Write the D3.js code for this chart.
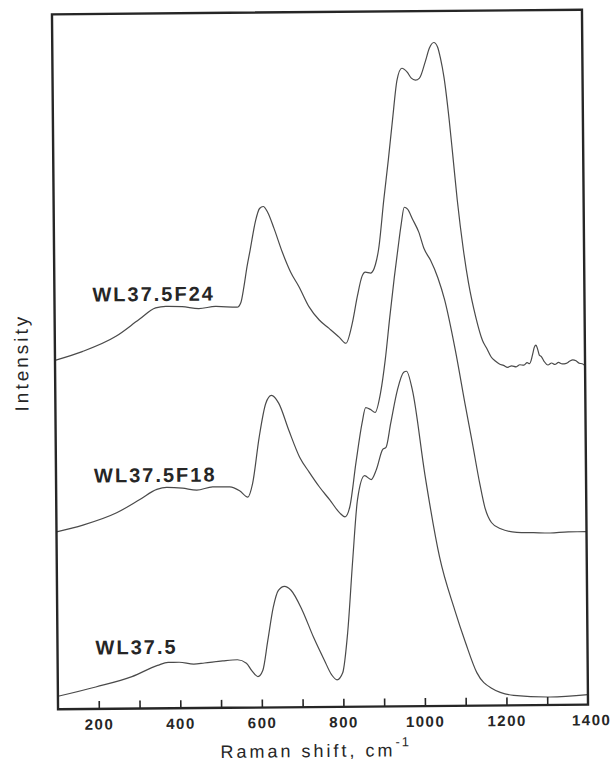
<!DOCTYPE html>
<html>
<head>
<meta charset="utf-8">
<script src="https://cdn.jsdelivr.net/npm/d3@7"></script>
<style>
  html, body { margin: 0; padding: 0; background: #fff; }
  svg { display: block; }
</style>
</head>
<body>
<svg id="chart" width="611" height="763"></svg>
<script>
// Raman shift (cm-1) and intensity (arbitrary units, stacked) for each spectrum
const f24Shift = [100, 167, 250, 307, 348, 373, 413, 454, 495, 548, 557, 565, 573, 581, 595, 605, 614, 625, 640, 660, 680, 700, 724, 749, 773, 798, 814, 830, 843, 855, 863, 876, 888, 896, 910, 922, 933, 945, 957, 970, 980, 990, 1000, 1015, 1025, 1036, 1045, 1052, 1060, 1072, 1080, 1090, 1104, 1116, 1133, 1149, 1160, 1170, 1180, 1190, 1200, 1210, 1220, 1231, 1240, 1250, 1258, 1264, 1268, 1272, 1276, 1280, 1284, 1288, 1293, 1300, 1309, 1318, 1326, 1335, 1344, 1354, 1362, 1370, 1378, 1386, 1393, 1400];
const f24Int   = [69.8, 71.5, 74.5, 77.8, 80.1, 80.4, 80.3, 79.9, 80.3, 80.1, 81.0, 84.2, 88.2, 91.5, 97.4, 99.8, 100.2, 99.0, 95.8, 91.0, 87.0, 84.1, 80.1, 77.4, 75.7, 73.9, 72.7, 76.7, 82.1, 86.1, 86.9, 86.7, 88.4, 91.4, 101.4, 109.4, 117.3, 125.3, 127.6, 126.8, 125.6, 125.2, 125.6, 129.0, 131.6, 132.7, 131.8, 129.5, 125.8, 117.2, 110.2, 101.2, 91.2, 84.5, 77.7, 73.0, 71.3, 69.7, 68.9, 68.3, 68.0, 67.6, 67.9, 67.7, 68.1, 68.0, 68.5, 68.3, 69.0, 70.3, 71.6, 72.0, 71.2, 70.0, 69.7, 68.7, 68.0, 68.4, 68.1, 68.5, 68.2, 68.3, 68.7, 69.0, 68.8, 68.3, 68.2, 67.8];

const f18Shift = [100, 165, 248, 305, 347, 371, 410, 445, 484, 526, 550, 570, 582, 599, 616, 630, 648, 672, 698, 721, 746, 771, 795, 808, 820, 836, 852, 861, 873, 884, 898, 910, 922, 934, 943, 952, 960, 968, 980, 995, 1008, 1023, 1041, 1057, 1082, 1106, 1122, 1139, 1151, 1167, 1188, 1229, 1270, 1311, 1355, 1400];
const f18Int   = [35.5, 36.8, 39.2, 41.8, 43.8, 44.2, 44.0, 43.6, 44.2, 44.2, 43.4, 42.1, 44.8, 54.0, 60.8, 62.4, 60.8, 55.4, 50.0, 47.0, 44.0, 41.4, 38.8, 38.0, 40.0, 48.8, 56.8, 59.8, 59.4, 58.8, 62.8, 69.3, 77.8, 85.8, 91.2, 96.4, 99.8, 99.4, 97.4, 94.8, 91.4, 89.2, 85.6, 81.2, 71.2, 59.8, 52.5, 44.5, 39.7, 36.6, 35.4, 34.6, 34.5, 34.4, 34.6, 34.6];

const wlShift = [100, 193, 282, 345, 371, 398, 434, 460, 505, 541, 563, 576, 591, 603, 616, 630, 643, 658, 674, 701, 728, 754, 772, 785, 799, 812, 826, 839, 857, 873, 886, 902, 910, 922, 939, 955, 962, 976, 1005, 1039, 1075, 1101, 1128, 1165, 1218, 1307, 1400];
const wlInt   = [2.6, 4.4, 6.4, 8.6, 9.2, 9.2, 8.8, 9.0, 9.4, 9.6, 8.9, 7.4, 6.2, 7.4, 13.4, 20.0, 23.4, 24.2, 23.4, 19.4, 14.0, 9.4, 6.4, 5.4, 6.8, 14.8, 29.4, 41.4, 46.2, 45.4, 47.4, 51.4, 51.8, 56.6, 63.2, 66.8, 67.0, 63.2, 46.2, 29.8, 19.2, 12.6, 6.6, 3.4, 2.0, 1.6, 2.0];

const seriesNames = ["WL37.5F24", "WL37.5F18", "WL37.5"];
const labelAnchors = [305, 485, 657]; // label baselines in intensity-free pixel rows

const tickValues = [200, 300, 400, 500, 600, 700, 800, 900, 1000, 1100, 1200, 1300, 1400];
const tickLabels = ["200", "", "400", "", "600", "", "800", "", "1000", "", "1200", "", "1400"];

const xTitle = "Raman shift, cm";
const xTitleSup = "-1";
const yTitle = "Intensity";

const frame = { left: 55, right: 585, top: 12, bottom: 707 };
const ink = "#262626";
const traceInk = "#4a4a4a";
const font = "'Liberation Sans', Arial, Helvetica, sans-serif";

const x = d3.scaleLinear().domain([100, 1400]).range([frame.left, frame.right]);
const y = d3.scaleLinear().domain([0, 139]).range([frame.bottom, frame.top]);

const svg = d3.select("#chart");
svg.append("rect").attr("width", 611).attr("height", 763).attr("fill", "#fff");

// the whole plate sits very slightly tilted on the page
const g = svg.append("g").attr("transform", "rotate(-0.5,320,360)");

// spectra
const line = d3.line()
  .x(d => x(d[0]))
  .y(d => y(d[1]))
  .curve(d3.curveMonotoneX);

const series = [
  d3.zip(f24Shift, f24Int),
  d3.zip(f18Shift, f18Int),
  d3.zip(wlShift, wlInt)
];

g.selectAll("path.trace")
  .data(series)
  .join("path")
  .attr("class", "trace")
  .attr("d", line)
  .attr("fill", "none")
  .attr("stroke", traceInk)
  .attr("stroke-width", 1.2)
  .attr("stroke-linejoin", "round");

// frame
g.append("rect")
  .attr("x", frame.left)
  .attr("y", frame.top)
  .attr("width", frame.right - frame.left)
  .attr("height", frame.bottom - frame.top)
  .attr("fill", "none")
  .attr("stroke", ink)
  .attr("stroke-width", 2.4);

// bottom axis: inward ticks every 100 cm-1, labels every 200
const axis = d3.axisBottom(x)
  .tickValues(tickValues)
  .tickSizeInner(-8)
  .tickSizeOuter(0)
  .tickPadding(10)
  .tickFormat((d, i) => tickLabels[i]);

const ax = g.append("g")
  .attr("transform", `translate(0,${frame.bottom})`)
  .call(axis);
ax.select(".domain").remove();
ax.selectAll(".tick line").attr("stroke", ink).attr("stroke-width", 1.6);
ax.selectAll(".tick text")
  .attr("fill", ink)
  .style("font-family", font)
  .style("font-size", "15px")
  .style("font-weight", "bold")
  .style("letter-spacing", "1.5px");
ax.selectAll(".tick").filter(d => d === 1400).select("line").remove();
ax.selectAll(".tick").filter(d => d === 1400).select("text").attr("dx", "3");

// spectrum names
g.selectAll("text.name")
  .data(seriesNames)
  .join("text")
  .attr("class", "name")
  .attr("x", 93)
  .attr("y", (d, i) => [299.5, 480.5, 652.5][i])
  .attr("fill", ink)
  .style("font-family", font)
  .style("font-size", "20px")
  .style("font-weight", "bold")
  .style("letter-spacing", "2px")
  .text(d => d);

// axis titles
const xt = g.append("text")
  .attr("x", 217)
  .attr("y", 757)
  .attr("fill", ink)
  .style("font-family", font)
  .style("font-size", "18px")
  .style("letter-spacing", "3px");
xt.append("tspan").text(xTitle);
xt.append("tspan")
  .attr("dy", "-10")
  .style("font-size", "13px")
  .style("letter-spacing", "2px")
  .text(xTitleSup);

g.append("text")
  .attr("transform", "translate(28,360) rotate(-90)")
  .attr("text-anchor", "middle")
  .attr("fill", ink)
  .style("font-family", font)
  .style("font-size", "19px")
  .style("letter-spacing", "3px")
  .text(yTitle);
</script>
</body>
</html>
